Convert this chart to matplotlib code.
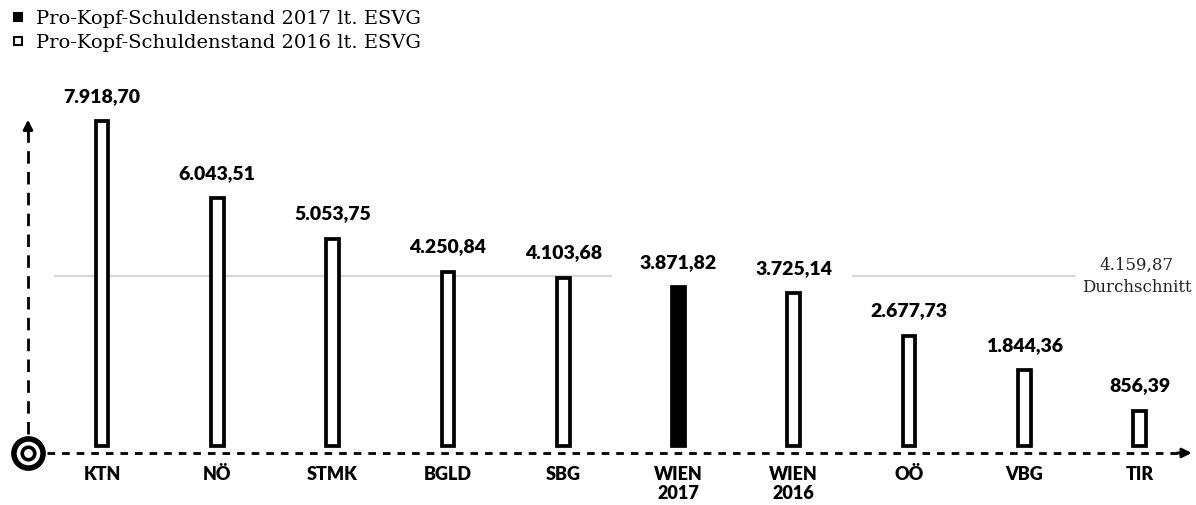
import matplotlib
matplotlib.use("Agg")
import matplotlib.pyplot as plt
from matplotlib.lines import Line2D

# Pro-Kopf-Schuldenstand nach Bundesland (EUR)
laender = ["KTN", "NÖ", "STMK", "BGLD", "SBG", "WIEN\n2017", "WIEN\n2016", "OÖ", "VBG", "TIR"]
werte = [7918.70, 6043.51, 5053.75, 4250.84, 4103.68, 3871.82, 3725.14, 2677.73, 1844.36, 856.39]
jahr_2017 = [False, False, False, False, False, True, False, False, False, False]
durchschnitt = 4159.87

legende = ["Pro-Kopf-Schuldenstand 2017 lt. ESVG", "Pro-Kopf-Schuldenstand 2016 lt. ESVG"]


def fmt(v):
    # deutsches Zahlenformat: 7.918,70
    return f"{v:,.2f}".replace(",", "X").replace(".", ",").replace("X", ".")


plt.rcParams["lines.scale_dashes"] = False
fig = plt.figure(figsize=(11.96, 5.05), dpi=100)
ax = fig.add_axes([0, 0, 1, 1])
ax.set_xlim(-0.8847, 9.488)
ax.set_ylim(-1440, 10883)
ax.axis("off")

sans = "Lato"
serif = "DejaVu Serif"

# Durchschnittslinie, unterbrochen bei den Wien-Beschriftungen
ax.plot([-0.41, 4.415], [durchschnitt, durchschnitt], color="#d6d6d6", lw=1.6, zorder=1)
ax.plot([6.513, 8.43], [durchschnitt, durchschnitt], color="#d6d6d6", lw=1.6, zorder=1)
ax.text(8.975, durchschnitt - 20, fmt(durchschnitt) + "\nDurchschnitt", ha="center", va="center",
        fontsize=12, family=serif, color="#222222", linespacing=1.45)

# Balken
x = list(range(len(laender)))
farben = ["black" if j else "white" for j in jahr_2017]
ax.bar(x, werte, width=0.11, color=farben, edgecolor="black", linewidth=2.7, zorder=3)

for i, v in enumerate(werte):
    ax.annotate(fmt(v), xy=(i, v), xytext=(0, 12), textcoords="offset points",
                ha="center", va="bottom", fontsize=14, fontweight="heavy", family=sans)
    ax.annotate(laender[i], xy=(i, 0), xytext=(0, -14.5), textcoords="offset points",
                ha="center", va="top", fontsize=13, fontweight="heavy", family=sans,
                linespacing=1.12)

# Achsen mit Pfeilen
x0 = -0.642
y0 = -170
ax.plot([x0, x0], [300, 7700], color="black", lw=2, linestyle=(0, (9, 6)), zorder=2)
ax.annotate("", xy=(x0, 8030), xytext=(x0, 7600),
            arrowprops=dict(arrowstyle="-|>", color="black", lw=2, mutation_scale=14))
ax.plot([-0.48, 9.35], [y0, y0], color="black", lw=2, linestyle=(0, (5.5, 5)), zorder=2)
ax.annotate("", xy=(9.475, y0), xytext=(9.3, y0),
            arrowprops=dict(arrowstyle="-|>", color="black", lw=2, mutation_scale=14))

# Ursprung als Zielscheibe
ax.plot([x0], [y0], marker="o", markersize=21, markerfacecolor="white",
        markeredgecolor="black", markeredgewidth=4, zorder=4, clip_on=False)
ax.plot([x0], [y0], marker="o", markersize=9, markerfacecolor="white",
        markeredgecolor="black", markeredgewidth=2.6, zorder=5, clip_on=False)

# Legende
handles = [
    Line2D([], [], marker="s", linestyle="none", markersize=6, markerfacecolor="black",
           markeredgecolor="black", markeredgewidth=1.5),
    Line2D([], [], marker="s", linestyle="none", markersize=6, markerfacecolor="white",
           markeredgecolor="black", markeredgewidth=1.5),
]
ax.legend(handles, legende, loc="upper left", bbox_to_anchor=(0.0, 1.0),
          bbox_transform=fig.transFigure, frameon=False, prop={"family": serif, "size": 14},
          handlelength=0.8, handletextpad=0.55, borderpad=0.2, borderaxespad=0.3,
          labelspacing=0.3)

fig.savefig("out.png", dpi=100, facecolor="white")
